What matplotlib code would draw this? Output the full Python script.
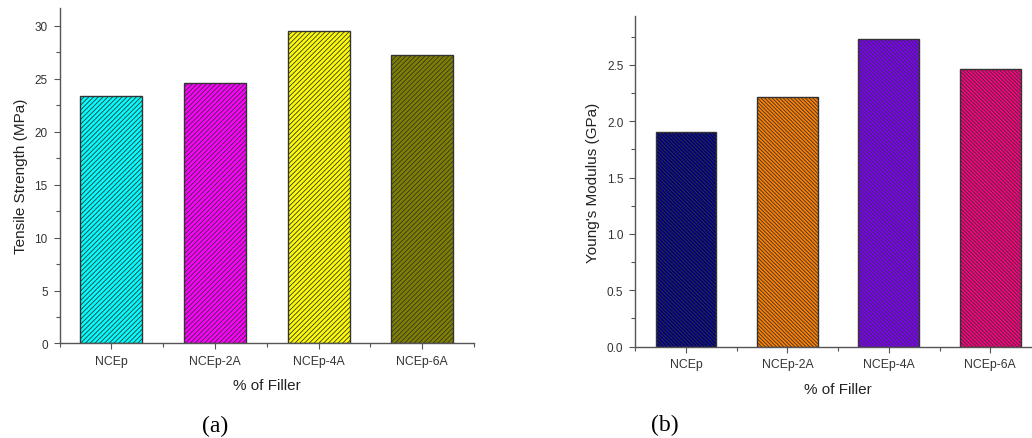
import numpy as np
import matplotlib
matplotlib.use("Agg")
import matplotlib.pyplot as plt
from matplotlib.ticker import MultipleLocator, FormatStrFormatter

# ---------------------------------------------------------
# Tensile strength / Young's modulus vs filler content
# ---------------------------------------------------------

categories = ["NCEp", "NCEp-2A", "NCEp-4A", "NCEp-6A"]
tensile_mpa = [23.4, 24.6, 29.5, 27.3]
modulus_gpa = [1.90, 2.21, 2.73, 2.46]

colors_a = ["#00FFFF", "#FF00FF", "#FFFF00", "#808000"]
colors_b = ["#000080", "#FF8000", "#8000FF", "#FF0080"]

plt.rcParams["font.family"] = ["Liberation Sans", "DejaVu Sans"]
plt.rcParams["hatch.linewidth"] = 0.6
plt.rcParams["hatch.color"] = "#222222"

fig = plt.figure(figsize=(10.32, 4.39), dpi=100)

ax_a = fig.add_axes([0.0577, 0.2153, 0.4017, 0.7642])
ax_b = fig.add_axes([0.6156, 0.2080, 0.3931, 0.7526])

x = np.arange(1, len(categories) + 1)


def style_axes(ax, ylabel, ytop, major, minor):
    ax.set_xlim(0.5, 4.5)
    ax.set_ylim(0, ytop)
    for side in ["top", "right"]:
        ax.spines[side].set_visible(False)
    for side in ["left", "bottom"]:
        ax.spines[side].set_color("#555555")
        ax.spines[side].set_linewidth(1.0)
    ax.set_xticks(x)
    ax.set_xticklabels(categories)
    ax.xaxis.set_minor_locator(MultipleLocator(1.0, offset=0.5))
    ax.yaxis.set_major_locator(MultipleLocator(major))
    ax.yaxis.set_minor_locator(MultipleLocator(minor))
    ax.tick_params(axis="both", which="major", direction="out", length=4.5,
                   width=0.8, color="#555555", labelsize=8.5,
                   labelcolor="#333333", pad=4)
    ax.tick_params(axis="x", which="major", labelsize=8.8)
    ax.tick_params(axis="both", which="minor", direction="out", length=3,
                   width=0.8, color="#555555")
    ax.set_xlabel("% of Filler", fontsize=11, color="#222222", labelpad=8)
    ax.set_ylabel(ylabel, fontsize=11, color="#222222", labelpad=5)


ax_a.bar(x, tensile_mpa, width=0.6, color=colors_a, edgecolor="#333333",
         linewidth=1.0, hatch="/" * 7)
style_axes(ax_a, "Tensile Strength (MPa)", 31.7, 5, 2.5)

ax_b.bar(x, modulus_gpa, width=0.6, color=colors_b, edgecolor="#333333",
         linewidth=1.0, hatch="\\" * 9)
style_axes(ax_b, "Young's Modulus (GPa)", 2.93, 0.5, 0.25)
ax_b.yaxis.set_major_formatter(FormatStrFormatter("%.1f"))

fig.text(215 / 1032, 1 - 426 / 439, "(a)", family="Liberation Serif",
         fontsize=17, ha="center", va="center")
fig.text(665 / 1032, 1 - 425 / 439, "(b)", family="Liberation Serif",
         fontsize=17, ha="center", va="center")

fig.savefig("out.png", dpi=100)
